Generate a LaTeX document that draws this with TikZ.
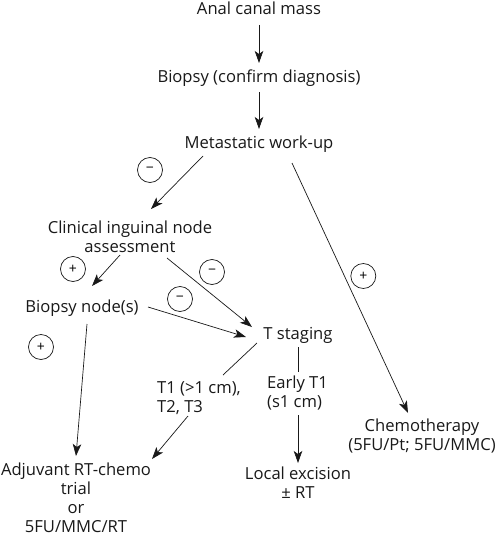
\documentclass[tikz,border=0pt]{standalone}
\usepackage{fontspec}
\setmainfont{Open Sans}
\usetikzlibrary{arrows.meta}
\tikzset{
 lbl/.style={font=\fontsize{16.6}{19}\selectfont,align=center,inner sep=0pt,text=black!90},
 lbll/.style={lbl,align=left},
 conn/.style={draw=black!90,line width=0.7pt,-{Stealth[length=12pt,width=8.5pt,inset=3pt]}},
 plain/.style={draw=black!90,line width=0.7pt},
 sign/.style={circle,draw=black!90,line width=0.7pt,minimum size=25pt,inner sep=0pt,font=\fontsize{14}{14}\selectfont}
}
\newcommand{\at}[3]{([shift={(#2,#3)}]#1.center)}
\begin{document}
\begin{tikzpicture}[x=1pt,y=-1pt]
\useasboundingbox (0,0) rectangle (495,535);
\fill[white] (0,0) rectangle (495,535);
\node[lbl] (mass) at (259,8) {Anal canal mass};
\node[lbl] (biopsy) at (259,78.5) {Biopsy (confirm diagnosis)};
\node[lbl] (meta) at (259,144) {Metastatic work-up};
\node[lbl] (clin) at (130,236.5) {Clinical inguinal node\\assessment};
\node[lbl] (bnode) at (82,308) {Biopsy node(s)};
\node[lbl] (tstage) at (298,335.5) {T staging};
\node[lbll] (t1) at (199,398) {T1 (>1 cm),\\T2, T3};
\node[lbll] (early) at (297.5,393) {Early T1\\(s1 cm)};
\node[lbl] (chemo) at (422,436) {Chemotherapy\\(5FU/Pt; 5FU/MMC)};
\node[lbl] (adj) at (76,497.5) {Adjuvant RT-chemo\\trial\\or\\5FU/MMC/RT};
\node[lbl] (local) at (298,482.5) {Local excision\\± RT};
\node[sign] (s1) at (150,170) {−};
\node[sign] (s2) at (73,269) {+};
\node[sign] (s3) at (212,272) {−};
\node[sign] (s4) at (180,299) {−};
\node[sign] (s5) at (41,347) {+};
\node[sign] (s6) at (363.3,276) {+};
\draw[conn] \at{mass}{0}{17} -- \at{biopsy}{0}{-15.5};
\draw[conn] \at{biopsy}{0}{13.5} -- \at{meta}{0}{-15};
\draw[conn] \at{meta}{-56}{12} -- \at{clin}{21}{-27.5};
\draw[conn] \at{meta}{33}{19} -- \at{chemo}{-14}{-23};
\draw[conn] \at{clin}{-10}{18.5} -- \at{bnode}{10}{-22};
\draw[conn] \at{clin}{37}{21.5} -- \at{tstage}{-46}{-8.5};
\draw[conn] \at{bnode}{66}{-1} -- \at{tstage}{-52}{1.5};
\draw[conn] \at{bnode}{5}{16} -- \at{adj}{0}{-41.5};
\draw[plain] \at{tstage}{-41}{7.5} -- \at{t1}{24}{-23};
\draw[conn] \at{t1}{-11}{18} -- \at{adj}{76}{-38.5};
\draw[plain] \at{tstage}{0}{11.5} -- \at{early}{0.5}{-21};
\draw[conn] \at{early}{0.5}{22} -- \at{local}{0}{-19.5};
\end{tikzpicture}
\end{document}
